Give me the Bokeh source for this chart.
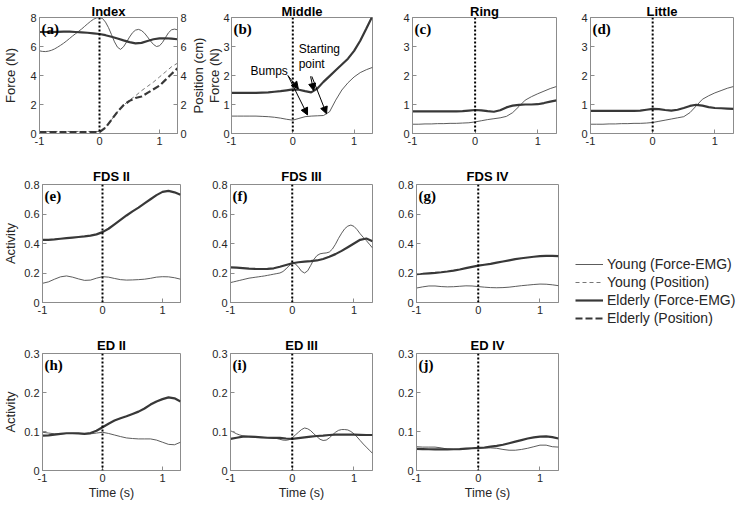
from bokeh.plotting import figure
from bokeh.layouts import column, row
from bokeh.models import (Range1d, LinearAxis, FixedTicker, CustomJSTickFormatter, Span,
                          Label, Arrow, NormalHead, Legend, LegendItem, Title)
from bokeh.embed import file_html
from bokeh.resources import INLINE

# ---------------- data ----------------
T = [-1.0, -0.9, -0.8, -0.7, -0.6, -0.5, -0.4, -0.3, -0.2, -0.1, 0.0, 0.1, 0.2, 0.3,
     0.4, 0.5, 0.6, 0.7, 0.8, 0.9, 1.0, 1.1, 1.2, 1.3]
T_FINE = [-1.0, -0.95, -0.9, -0.85, -0.8, -0.75, -0.7, -0.65, -0.6, -0.55, -0.5, -0.45,
          -0.4, -0.35, -0.3, -0.25, -0.2, -0.15, -0.1, -0.05, 0.0, 0.05, 0.1, 0.15, 0.2,
          0.25, 0.3, 0.35, 0.4, 0.45, 0.5, 0.55, 0.6, 0.65, 0.7, 0.75, 0.8, 0.85, 0.9,
          0.95, 1.0, 1.05, 1.1, 1.15, 1.2, 1.25, 1.3]

X_TICKS = [-1, 0, 1]
FORCE_TICKS_A = [0, 2, 4, 6, 8]
FORCE_TICKS = [0, 1, 2, 3, 4]
FDS_TICKS = [0, 0.2, 0.4, 0.6, 0.8]
ED_TICKS = [0, 0.1, 0.2, 0.3]

TITLES = ["Index", "Middle", "Ring", "Little", "FDS II", "FDS III", "FDS IV", "ED II", "ED III", "ED IV"]
LETTERS = ["(a)", "(b)", "(c)", "(d)", "(e)", "(f)", "(g)", "(h)", "(i)", "(j)"]
LEGEND_LABELS = ["Young (Force-EMG)", "Young (Position)", "Elderly (Force-EMG)", "Elderly (Position)"]

# (a) Index
index_young_force = [5.70, 5.66, 5.65, 5.68, 5.74, 5.83, 5.95, 6.08, 6.22, 6.38, 6.55, 6.72,
                     6.88, 7.04, 7.20, 7.38, 7.56, 7.73, 7.88, 7.97, 8.00, 7.93, 7.68, 7.30,
                     6.82, 6.32, 5.95, 5.80, 5.98, 6.30, 6.65, 6.95, 7.13, 7.18, 7.10, 6.92,
                     6.66, 6.38, 6.14, 6.00, 6.05, 6.28, 6.62, 6.95, 7.15, 7.20, 7.15]
index_elderly_force = [7.0, 7.0, 7.0, 7.01, 7.02, 7.02, 7.0, 6.98, 6.95, 6.91, 6.86, 6.78,
                       6.67, 6.55, 6.42, 6.3, 6.22, 6.25, 6.38, 6.5, 6.56, 6.57, 6.54, 6.5]
index_young_pos = [0.14, 0.14, 0.14, 0.14, 0.14, 0.14, 0.14, 0.14, 0.14, 0.14, 0.14, 0.4,
                   0.95, 1.5, 1.95, 2.3, 2.6, 2.95, 3.25, 3.55, 3.9, 4.25, 4.6, 4.85]
index_elderly_pos = [0.1, 0.1, 0.1, 0.1, 0.1, 0.1, 0.1, 0.1, 0.1, 0.1, 0.1, 0.4,
                     0.95, 1.5, 1.95, 2.25, 2.45, 2.55, 2.8, 3.05, 3.3, 3.7, 4.1, 4.5]
# (b) Middle
middle_young = [0.60, 0.60, 0.60, 0.60, 0.60, 0.59, 0.58, 0.56, 0.53, 0.49, 0.46, 0.52,
                0.58, 0.60, 0.61, 0.62, 0.75, 1.15, 1.5, 1.75, 1.95, 2.1, 2.2, 2.28]
middle_elderly = [1.40, 1.40, 1.40, 1.40, 1.40, 1.41, 1.42, 1.44, 1.46, 1.49, 1.52, 1.51,
                  1.46, 1.42, 1.55, 1.78, 1.98, 2.18, 2.38, 2.58, 2.85, 3.2, 3.62, 4.05]
# (c) Ring
ring_young = [0.32, 0.32, 0.33, 0.33, 0.34, 0.34, 0.35, 0.35, 0.36, 0.37, 0.40, 0.44,
              0.48, 0.51, 0.54, 0.59, 0.72, 0.93, 1.15, 1.27, 1.37, 1.46, 1.55, 1.62]
ring_elderly = [0.76, 0.76, 0.76, 0.76, 0.76, 0.76, 0.76, 0.76, 0.77, 0.79, 0.81, 0.80,
                0.77, 0.75, 0.80, 0.90, 0.96, 0.99, 1.0, 1.0, 1.01, 1.05, 1.1, 1.14]
# (d) Little
little_young = [0.32, 0.32, 0.32, 0.33, 0.33, 0.34, 0.34, 0.35, 0.35, 0.36, 0.38, 0.42,
                0.46, 0.50, 0.54, 0.58, 0.72, 0.95, 1.18, 1.3, 1.4, 1.48, 1.56, 1.62]
little_elderly = [0.78, 0.78, 0.78, 0.78, 0.78, 0.78, 0.78, 0.78, 0.79, 0.82, 0.85, 0.84,
                  0.81, 0.79, 0.82, 0.88, 0.95, 0.99, 0.96, 0.91, 0.88, 0.87, 0.86, 0.85]
# (e) FDS II
fds2_young = [0.13, 0.14, 0.158, 0.174, 0.18, 0.172, 0.16, 0.15, 0.152, 0.165, 0.175, 0.172,
              0.163, 0.155, 0.152, 0.153, 0.155, 0.158, 0.164, 0.172, 0.175, 0.174, 0.168, 0.158]
fds2_elderly = [0.425, 0.425, 0.428, 0.432, 0.436, 0.44, 0.444, 0.448, 0.453, 0.462, 0.477,
                0.50, 0.53, 0.56, 0.59, 0.618, 0.643, 0.672, 0.70, 0.728, 0.75, 0.757, 0.747, 0.73]
# (f) FDS III
fds3_young = [0.135, 0.140, 0.145, 0.150, 0.155, 0.160, 0.165, 0.168, 0.171, 0.174, 0.177,
              0.180, 0.184, 0.188, 0.192, 0.196, 0.200, 0.210, 0.228, 0.250, 0.266, 0.262,
              0.240, 0.212, 0.200, 0.215, 0.252, 0.292, 0.318, 0.330, 0.334, 0.336, 0.342,
              0.362, 0.395, 0.435, 0.470, 0.500, 0.518, 0.525, 0.516, 0.494, 0.466, 0.442,
              0.420, 0.395, 0.370]
fds3_elderly = [0.238, 0.236, 0.233, 0.23, 0.228, 0.227, 0.228, 0.232, 0.242, 0.254, 0.266,
                0.273, 0.277, 0.28, 0.285, 0.295, 0.31, 0.328, 0.35, 0.375, 0.40, 0.425, 0.434, 0.416]
# (g) FDS IV
fds4_young = [0.098, 0.106, 0.112, 0.112, 0.108, 0.106, 0.107, 0.11, 0.113, 0.112, 0.108,
              0.104, 0.101, 0.100, 0.101, 0.104, 0.109, 0.114, 0.118, 0.122, 0.125, 0.124, 0.12, 0.114]
fds4_elderly = [0.193, 0.195, 0.198, 0.201, 0.205, 0.21, 0.216, 0.224, 0.233, 0.242, 0.25,
                0.256, 0.262, 0.27, 0.278, 0.286, 0.294, 0.30, 0.305, 0.31, 0.314, 0.316, 0.316, 0.314]
# (h) ED II
ed2_young = [0.098, 0.096, 0.094, 0.094, 0.095, 0.0955, 0.095, 0.094, 0.094, 0.096, 0.098,
             0.095, 0.091, 0.087, 0.0835, 0.082, 0.081, 0.081, 0.081, 0.078, 0.0725, 0.067, 0.066, 0.0725]
ed2_elderly = [0.0895, 0.09, 0.092, 0.094, 0.0955, 0.0955, 0.095, 0.094, 0.096, 0.102, 0.111,
               0.12, 0.128, 0.134, 0.139, 0.145, 0.151, 0.159, 0.169, 0.177, 0.183, 0.1875, 0.185, 0.177]
# (i) ED III
ed3_young = [0.102, 0.098, 0.094, 0.091, 0.089, 0.088, 0.087, 0.086, 0.0855, 0.085, 0.085,
             0.0845, 0.084, 0.0838, 0.0835, 0.082, 0.080, 0.078, 0.0775, 0.079, 0.0835, 0.091,
             0.098, 0.105, 0.109, 0.107, 0.102, 0.094, 0.087, 0.080, 0.077, 0.078, 0.0835,
             0.091, 0.098, 0.103, 0.105, 0.105, 0.104, 0.100, 0.094, 0.086, 0.077, 0.068,
             0.060, 0.052, 0.044]
ed3_elderly = [0.081, 0.084, 0.087, 0.087, 0.086, 0.085, 0.084, 0.0835, 0.0835, 0.082, 0.081,
               0.083, 0.085, 0.087, 0.0885, 0.0895, 0.091, 0.092, 0.092, 0.092, 0.092, 0.0915, 0.091, 0.091]
# (j) ED IV
ed4_young = [0.061, 0.06, 0.06, 0.06, 0.058, 0.055, 0.054, 0.0545, 0.0555, 0.0565, 0.057,
             0.0575, 0.058, 0.057, 0.054, 0.052, 0.052, 0.054, 0.057, 0.061, 0.065, 0.065, 0.061, 0.06]
ed4_elderly = [0.0555, 0.055, 0.0545, 0.054, 0.054, 0.054, 0.0545, 0.055, 0.056, 0.057, 0.058,
               0.059, 0.061, 0.063, 0.066, 0.07, 0.074, 0.078, 0.082, 0.085, 0.087, 0.0875, 0.0855, 0.082]

# annotations of panel (b), in data units (time, force)
NOTE_TEXTS = ["Bumps", "Starting", "point"]
NOTE_X = [-0.69, 0.095, 0.095]
NOTE_Y = [2.14, 2.9, 2.41]
ARROW_X0 = [-0.08, -0.08, 0.29, 0.31]
ARROW_Y0 = [2.0, 2.0, 1.97, 1.97]
ARROW_X1 = [0.09, 0.24, 0.34, 0.55]
ARROW_Y1 = [1.54, 0.64, 1.48, 0.68]

# ---------------- style ----------------
SANS = "Liberation Sans"
SERIF = "Liberation Serif"
TXT = "#262626"
AXC = "#8c8c8c"
THIN = dict(line_color="#4a4a4a", line_width=0.9)
THICK = dict(line_color="#383838", line_width=2.2)
THIN_DASH = dict(line_color="#666666", line_width=0.9, line_dash="4 3")
THICK_DASH = dict(line_color="#383838", line_width=2.2, line_dash="7 3")

FMT = "return String(Math.round(tick*1000)/1000);"


def style_axis(ax, ticks, label_standoff=1, label_size="13px"):
    ax.ticker = FixedTicker(ticks=ticks)
    ax.formatter = CustomJSTickFormatter(code=FMT)
    ax.axis_line_color = AXC
    ax.major_tick_line_color = AXC
    ax.major_tick_in = 4
    ax.major_tick_out = 0
    ax.minor_tick_line_color = None
    ax.major_label_text_font = SANS
    ax.major_label_text_font_size = "11px"
    ax.major_label_text_color = TXT
    ax.major_label_standoff = 3
    ax.axis_label_text_font = SANS
    ax.axis_label_text_font_size = label_size
    ax.axis_label_text_font_style = "normal"
    ax.axis_label_text_color = TXT
    ax.axis_label_standoff = label_standoff


def panel(k, ymax, yticks, W, H, L, R, T_, B, ylabel=None, xlabel=None, ylabel_standoff=1,
          title_standoff=0):
    p = figure(width=W, height=H, x_range=Range1d(-1, 1.3), y_range=Range1d(0, ymax),
               output_backend="svg", toolbar_location=None, title=TITLES[k],
               min_border_left=L, min_border_right=R, min_border_top=T_, min_border_bottom=B)
    p.title.text_font = SANS
    p.title.text_font_size = "13px"
    p.title.text_font_style = "bold"
    p.title.text_color = "black"
    p.title.align = "center"
    p.title.standoff = title_standoff
    p.grid.visible = False
    p.outline_line_color = AXC
    style_axis(p.xaxis[0], X_TICKS, 1, "12.5px")
    style_axis(p.yaxis[0], yticks, ylabel_standoff)
    if ylabel:
        p.yaxis[0].axis_label = ylabel
    if xlabel:
        p.xaxis[0].axis_label = xlabel
    p.add_layout(Span(location=0, dimension="height", line_color="black",
                      line_width=2, line_dash="2 2"))
    p.add_layout(Label(x=-1, y=ymax, x_offset=2, y_offset=-3, text=LETTERS[k],
                       text_font=SERIF, text_font_size="15px", text_font_style="bold",
                       text_baseline="top", text_color="black"))
    return p


# Row 1  (frames at y 17..133)
pa = panel(0, 8, FORCE_TICKS_A, 189, 160, 38, 9, 17, 27, ylabel="Force (N)", ylabel_standoff=9,
           title_standoff=-3)
pa.extra_y_ranges = {"pos": Range1d(0, 8)}
ax2 = LinearAxis(y_range_name="pos")
style_axis(ax2, FORCE_TICKS_A)
pa.add_layout(ax2, "right")
pa.line(T_FINE, index_young_force, **THIN)
pa.line(T, index_young_pos, y_range_name="pos", **THIN_DASH)
pa.line(T, index_elderly_force, **THICK)
pa.line(T, index_elderly_pos, y_range_name="pos", **THICK_DASH)

pb = panel(1, 4, FORCE_TICKS, 201, 160, 39, 18, 17, 27, ylabel="Force (N)", ylabel_standoff=-2,
           title_standoff=-3)
pb.yaxis[0].major_label_standoff = 2
# right-axis label of panel (a) sits just left of panel (b)'s own axis label
pb.add_layout(Title(text="Position (cm)", align="center", text_font=SANS,
                    text_font_size="13px", text_font_style="normal", text_color=TXT,
                    standoff=-2), "left")
pb.line(T, middle_young, **THIN)
pb.line(T, middle_elderly, **THICK)
for txt, x, y in zip(NOTE_TEXTS, NOTE_X, NOTE_Y):
    pb.add_layout(Label(x=x, y=y, text=txt, text_font=SANS, text_font_size="12px",
                        text_baseline="middle", text_align="left", text_color="black"))
for x0, y0, x1, y1 in zip(ARROW_X0, ARROW_Y0, ARROW_X1, ARROW_Y1):
    pb.add_layout(Arrow(end=NormalHead(size=7, fill_color="black", line_color="black"),
                        x_start=x0, y_start=y0, x_end=x1, y_end=y1,
                        line_color="black", line_width=1))

pc = panel(2, 4, FORCE_TICKS, 176, 160, 22, 10, 17, 27, title_standoff=-3)
pc.line(T, ring_young, **THIN)
pc.line(T, ring_elderly, **THICK)

pd = panel(3, 4, FORCE_TICKS, 170, 160, 24, 3, 17, 27, title_standoff=-3)
pd.line(T, little_young, **THIN)
pd.line(T, little_elderly, **THICK)

# Row 2  (frames at y 184..302)
pe = panel(4, 0.8, FDS_TICKS, 205, 166, 38, 25, 24, 24, ylabel="Activity", ylabel_standoff=3,
           title_standoff=1)
pe.line(T, fds2_young, **THIN)
pe.line(T, fds2_elderly, **THICK)

pf = panel(5, 0.8, FDS_TICKS, 185, 166, 25, 18, 24, 24, title_standoff=1)
pf.line(T_FINE, fds3_young, **THIN)
pf.line(T, fds3_elderly, **THICK)

pg = panel(6, 0.8, FDS_TICKS, 176, 166, 26, 8, 24, 24, title_standoff=1)
pg.line(T, fds4_young, **THIN)
pg.line(T, fds4_elderly, **THICK)

# Row 3  (frames at y 353..470)
ph = panel(7, 0.3, ED_TICKS, 205, 178, 38, 25, 27, 34, ylabel="Activity", xlabel="Time (s)",
           ylabel_standoff=3, title_standoff=1)
ph.line(T, ed2_young, **THIN)
ph.line(T, ed2_elderly, **THICK)

pi = panel(8, 0.3, ED_TICKS, 185, 178, 25, 18, 27, 34, xlabel="Time (s)", title_standoff=1)
pi.line(T_FINE, ed3_young, **THIN)
pi.line(T, ed3_elderly, **THICK)

pj = panel(9, 0.3, ED_TICKS, 176, 178, 26, 8, 27, 34, xlabel="Time (s)", title_standoff=1)
pj.line(T, ed4_young, **THIN)
pj.line(T, ed4_elderly, **THICK)

# Legend panel spanning rows 2 and 3 (its frame is the whole figure)
lg = figure(width=170, height=344, output_backend="svg", toolbar_location=None,
            x_axis_location=None, y_axis_location=None, outline_line_color=None,
            min_border=0)
lg.grid.visible = False
r1 = lg.line(T_FINE, index_young_force, visible=False, **THIN)
r2 = lg.line(T, index_young_pos, visible=False, **THIN_DASH)
r3 = lg.line(T, index_elderly_force, visible=False, **THICK)
r4 = lg.line(T, index_elderly_pos, visible=False, **THICK_DASH)
legend = Legend(items=[LegendItem(label=lab, renderers=[r]) for lab, r in
                       zip(LEGEND_LABELS, [r1, r2, r3, r4])],
                location=(9, 177), border_line_color=None, background_fill_alpha=0,
                padding=0, margin=0, spacing=0, glyph_width=28, glyph_height=18,
                label_height=18, label_standoff=4, label_text_font=SANS,
                label_text_font_size="14px", label_text_color=TXT)
lg.add_layout(legend)

layout = column(row(pa, pb, pc, pd),
                row(column(row(pe, pf, pg), row(ph, pi, pj)), lg))

open("out.html", "w").write(file_html(layout, INLINE))
